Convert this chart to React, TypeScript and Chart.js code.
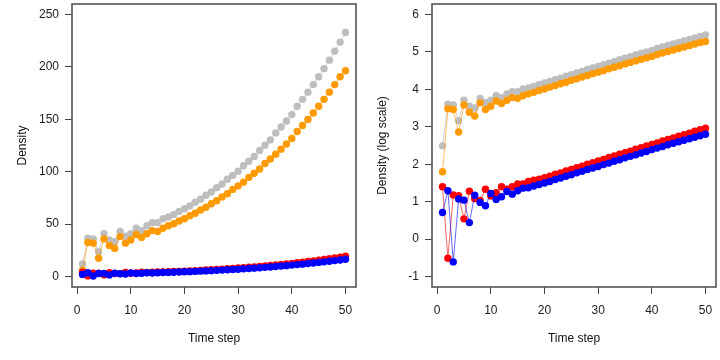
import React, { useEffect, useRef } from "react";
import { Chart, registerables } from "chart.js";

Chart.register(...registerables);

// Time steps (x categories)
const timeSteps = [
  1, 2, 3, 4, 5, 6, 7, 8, 9, 10, 11, 12, 13, 14, 15, 16, 17, 18, 19, 20,
  21, 22, 23, 24, 25, 26, 27, 28, 29, 30, 31, 32, 33, 34, 35, 36, 37, 38, 39, 40,
  41, 42, 43, 44, 45, 46, 47, 48, 49, 50,
];

// log(Density)
const grayLog = [
  2.49, 3.6, 3.58, 3.16, 3.71, 3.55, 3.5, 3.76, 3.65, 3.71,
  3.83, 3.78, 3.88, 3.94, 3.94, 4.01, 4.04, 4.08, 4.13, 4.17,
  4.21, 4.26, 4.3, 4.35, 4.39, 4.44, 4.48, 4.53, 4.57, 4.61,
  4.66, 4.7, 4.74, 4.79, 4.83, 4.87, 4.92, 4.96, 5.0, 5.04,
  5.09, 5.13, 5.17, 5.21, 5.25, 5.29, 5.33, 5.37, 5.41, 5.45,
];
const orangeLog = [
  1.8, 3.48, 3.46, 2.86, 3.58, 3.39, 3.29, 3.64, 3.46, 3.55,
  3.69, 3.62, 3.71, 3.78, 3.76, 3.83, 3.88, 3.92, 3.97, 4.01,
  4.06, 4.1, 4.15, 4.19, 4.24, 4.28, 4.33, 4.37, 4.42, 4.46,
  4.5, 4.55, 4.59, 4.63, 4.68, 4.72, 4.76, 4.8, 4.84, 4.88,
  4.93, 4.97, 5.01, 5.05, 5.09, 5.13, 5.17, 5.21, 5.25, 5.28,
];
const redLog = [
  1.4, -0.51, 1.18, 1.16, 0.54, 1.28, 1.08, 1.03, 1.33, 1.15,
  1.24, 1.4, 1.33, 1.4, 1.47, 1.47, 1.54, 1.57, 1.6, 1.64,
  1.68, 1.73, 1.77, 1.82, 1.86, 1.91, 1.95, 2.0, 2.04, 2.09,
  2.13, 2.18, 2.22, 2.27, 2.31, 2.35, 2.4, 2.44, 2.49, 2.53,
  2.57, 2.62, 2.66, 2.7, 2.75, 2.79, 2.83, 2.88, 2.92, 2.96,
];
const blueLog = [
  0.71, 1.29, -0.61, 1.07, 1.04, 0.44, 1.17, 0.98, 0.89, 1.22,
  1.06, 1.13, 1.27, 1.2, 1.29, 1.36, 1.37, 1.42, 1.46, 1.5,
  1.54, 1.59, 1.63, 1.68, 1.72, 1.77, 1.81, 1.86, 1.9, 1.94,
  1.99, 2.03, 2.08, 2.12, 2.17, 2.21, 2.25, 2.3, 2.34, 2.39,
  2.43, 2.47, 2.52, 2.56, 2.6, 2.64, 2.68, 2.72, 2.76, 2.8,
];

const xTicks = [0, 10, 20, 30, 40, 50];
const yTicksLinear = [0, 50, 100, 150, 200, 250];
const yTicksLog = [-1, 0, 1, 2, 3, 4, 5, 6];

const seriesDefs = [
  { name: "gray", values: grayLog, point: "#bebebe", line: "rgba(190,190,190,0.7)", order: 3 },
  { name: "orange", values: orangeLog, point: "#ff9a00", line: "rgba(255,154,0,0.6)", order: 2 },
  { name: "red", values: redLog, point: "#ff0000", line: "rgba(255,0,0,0.6)", order: 1 },
  { name: "blue", values: blueLog, point: "#0000ff", line: "rgba(0,0,255,0.6)", order: 0 },
];

const FONT = "'Liberation Sans', Arial, Helvetica, sans-serif";

const boxPlugin = {
  id: "rbox",
  afterDraw(chart: any) {
    const { ctx, chartArea } = chart;
    ctx.save();
    ctx.strokeStyle = "#4a4a4a";
    ctx.lineWidth = 1.5;
    ctx.strokeRect(chartArea.left, chartArea.top, chartArea.right - chartArea.left, chartArea.bottom - chartArea.top);
    ctx.restore();
  },
};

function zeroPad(s: any) {
  s.paddingTop = 0;
  s.paddingBottom = 0;
  s.paddingLeft = 0;
  s.paddingRight = 0;
}

function makeConfig(logScale: boolean): any {
  const datasets = seriesDefs.map((s) => ({
    label: s.name,
    data: timeSteps.map((t, i) => ({ x: t, y: logScale ? s.values[i] : Math.exp(s.values[i]) })),
    borderColor: s.line,
    backgroundColor: s.point,
    pointBackgroundColor: s.point,
    pointBorderWidth: 0,
    pointRadius: 3.7,
    borderWidth: 1,
    tension: 0,
    order: s.order,
  }));
  const yTicks = logScale ? yTicksLog : yTicksLinear;
  const tickFont = { family: FONT, size: 12 };
  return {
    type: "line",
    data: { datasets },
    options: {
      responsive: false,
      animation: false,
      events: [],
      layout: { padding: { top: 1, right: 2, left: 0, bottom: 0 } },
      plugins: { legend: { display: false }, tooltip: { enabled: false } },
      scales: {
        x: {
          type: "linear",
          min: -0.96,
          max: 51.96,
          afterBuildTicks: (s: any) => {
            s.ticks = xTicks.map((v) => ({ value: v }));
          },
          afterFit: (s: any) => {
            s.height = 73;
            zeroPad(s);
          },
          grid: { drawOnChartArea: false, drawTicks: true, tickLength: 7, color: "#444", tickWidth: 1 },
          border: { display: false },
          ticks: { padding: 9, color: "#222", font: tickFont, maxRotation: 0, autoSkip: false },
          title: { display: true, text: "Time step", color: "#111", font: tickFont, padding: { top: 0, bottom: 14 } },
        },
        y: {
          type: "linear",
          min: logScale ? -1.28 : -10,
          max: logScale ? 6.28 : 260,
          afterBuildTicks: (s: any) => {
            s.ticks = yTicks.map((v) => ({ value: v }));
          },
          afterFit: (s: any) => {
            s.width = 72;
            zeroPad(s);
          },
          grid: { drawOnChartArea: false, drawTicks: true, tickLength: 7, color: "#444", tickWidth: 1 },
          border: { display: false },
          ticks: { padding: 6, color: "#222", font: tickFont, autoSkip: false },
          title: {
            display: true,
            text: logScale ? "Density (log scale)" : "Density",
            color: "#111",
            font: tickFont,
            padding: { top: 15, bottom: 0 },
          },
        },
      },
    },
    plugins: [boxPlugin],
  };
}

function Panel({ logScale, left }: { logScale: boolean; left: number }) {
  const ref = useRef<HTMLCanvasElement | null>(null);
  useEffect(() => {
    if (!ref.current) return;
    const chart = new Chart(ref.current, makeConfig(logScale));
    return () => chart.destroy();
  }, [logScale]);
  return (
    <canvas
      ref={ref}
      width={360}
      height={360}
      style={{ position: "absolute", left, top: 0, width: 360, height: 360 }}
    />
  );
}

export default function App() {
  return (
    <div style={{ position: "fixed", left: 0, top: 0, width: 720, height: 360, background: "#fff" }}>
      <Panel logScale={false} left={0} />
      <Panel logScale={true} left={360} />
    </div>
  );
}
